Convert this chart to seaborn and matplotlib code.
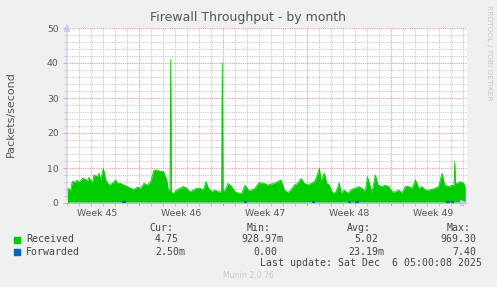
import numpy as np
import pandas as pd
import matplotlib
matplotlib.use("Agg")
import matplotlib.pyplot as plt
import seaborn as sns

# ---- data (x in days since start of the month window) ----
recv_day = [0.03, 0.31, 0.44, 0.72, 0.86, 1.00, 1.28, 1.56, 1.69, 1.83, 2.11, 2.25, 2.53, 2.67,
            2.81, 3.03, 3.22, 3.50, 3.78, 4.06, 4.19, 4.47, 4.75, 5.03, 5.31, 5.58, 5.86, 6.14,
            6.42, 6.69, 6.97, 7.25, 7.53, 7.81, 8.03, 8.31, 8.44, 8.58, 8.64, 8.70, 8.86, 9.14,
            9.42, 9.69, 9.97, 10.25, 10.53, 10.81, 11.08, 11.36, 11.58, 11.78, 12.06, 12.33,
            12.61, 12.88, 12.94, 13.00, 13.17, 13.44, 13.72, 14.00, 14.28, 14.56, 14.83, 15.11,
            15.39, 15.67, 15.94, 16.03, 16.44, 16.72, 17.00, 17.28, 17.56, 17.83, 18.11, 18.39,
            18.67, 18.94, 19.22, 19.50, 19.78, 20.06, 20.33, 20.61, 20.81, 21.03, 21.17, 21.44,
            21.64, 21.86, 22.14, 22.42, 22.69, 22.83, 23.11, 23.39, 23.67, 23.94, 24.03, 24.31,
            24.58, 24.86, 25.03, 25.19, 25.42, 25.69, 25.92, 26.25, 26.53, 26.81, 27.08, 27.36,
            27.64, 27.92, 28.19, 28.47, 28.75, 29.03, 29.31, 29.58, 29.86, 30.14, 30.42, 30.69,
            30.97, 31.25, 31.47, 31.81, 32.08, 32.25, 32.31, 32.37, 32.50, 32.78, 33.06, 33.19]
recv_val = [4.2, 3.7, 6.1, 6.0, 6.5, 5.8, 7.0, 6.8, 6.0, 7.3, 5.6, 8.0, 7.5, 8.5,
            6.6, 9.9, 6.6, 5.1, 5.6, 6.6, 5.6, 5.6, 5.1, 4.7, 4.2, 3.9, 4.5, 4.2,
            5.6, 5.1, 6.1, 9.4, 9.4, 9.0, 9.0, 6.6, 3.7, 3.5, 41.0, 3.0, 2.8, 3.7,
            4.2, 4.7, 4.2, 3.2, 3.7, 4.2, 4.2, 3.7, 6.1, 4.2, 3.2, 3.7,
            3.2, 3.2, 40.0, 3.3, 3.7, 5.6, 4.7, 3.2, 2.8, 2.8, 5.1, 3.7,
            3.7, 4.2, 5.6, 5.8, 5.6, 5.1, 5.4, 5.6, 6.1, 6.6, 3.7, 3.0,
            3.7, 5.1, 5.6, 7.0, 5.6, 5.1, 5.6, 6.1, 7.5, 9.9, 6.1, 8.5,
            5.6, 5.1, 2.8, 3.2, 5.8, 2.8, 3.7, 2.8, 3.7, 4.2, 4.2, 4.7,
            4.2, 3.2, 7.5, 5.6, 3.0, 8.0, 5.1, 4.7, 5.1, 4.7, 3.2, 3.2,
            3.7, 2.8, 4.7, 4.7, 4.2, 6.6, 4.2, 4.7, 3.7, 3.7, 3.9, 4.2,
            4.7, 8.5, 5.1, 4.7, 5.1, 5.0, 11.8, 5.5, 5.6, 6.1, 5.6, 4.2]

fwd_day = [4.70, 4.80, 14.80, 14.90, 20.50, 20.62, 20.75, 21.05, 23.50, 23.60, 24.10, 24.25,
           31.65, 31.80, 32.05, 32.20]
fwd_val = [0.3, 0.3, 0.3, 0.3, 0.3, 0.3, np.nan, np.nan, 0.3, 0.3, 0.3, 0.3,
           0.3, 0.3, 0.3, 0.3]
fwd_grp = [0, 0, 1, 1, 2, 2, 3, 3, 4, 4, 5, 5, 6, 6, 7, 7]

week_labels = ["Week 45", "Week 46", "Week 47", "Week 48", "Week 49"]
week_centers = [2.5, 9.5, 16.5, 23.5, 30.5]
week_bounds = [6, 13, 20, 27]
y_ticks = [0, 10, 20, 30, 40, 50]

legend_names = ["Received", "Forwarded"]
cur_vals = ["4.75", "2.50m"]
min_vals = ["928.97m", "0.00"]
avg_vals = ["5.02", "23.19m"]
max_vals = ["969.30", "7.40"]
colors = ["#00CC00", "#0066B3"]

# ---- figure ----
W, H = 497, 287
sns.set_theme(style="white")
plt.rcParams["font.family"] = ["DejaVu Sans"]
fig = plt.figure(figsize=(W / 100, H / 100), dpi=100, facecolor="#F0F0F0")

def px(x, y):
    return x / W, 1 - y / H

L, R, T, B = 67, 467, 28, 203
ax = fig.add_axes([L / W, (H - B) / H, (R - L) / W, (B - T) / H])
ax.set_facecolor("white")
XMAX = (R - L) / 12.0
ax.set_xlim(0, XMAX)
ax.set_ylim(0, 50)

# grid
minor_col = "#C8C8C8"
major_col = "#E39A9A"
dot = (0, (1, 1))
for d in range(1, int(XMAX) + 1):
    if d in week_bounds:
        continue
    ax.axvline(d, color=minor_col, lw=0.8, ls=dot, zorder=0)
for v in range(2, 51, 2):
    if v % 10 == 0:
        continue
    ax.axhline(v, color=minor_col, lw=0.8, ls=dot, zorder=0)
for d in week_bounds:
    ax.axvline(d, color=major_col, lw=0.8, ls=dot, zorder=0)
for v in y_ticks[1:]:
    ax.axhline(v, color=major_col, lw=0.8, ls=dot, zorder=0)

# data
df = pd.DataFrame({"day": recv_day, "value": recv_val})
ax.fill_between(df["day"], 0, df["value"], color=colors[0], lw=0, zorder=2)
sns.lineplot(data=df, x="day", y="value", color=colors[0], lw=0.6, ax=ax,
             estimator=None, sort=False, zorder=3)
dff = pd.DataFrame({"day": fwd_day, "value": fwd_val, "g": fwd_grp})
for g, sub in dff.groupby("g"):
    sns.lineplot(data=sub, x="day", y="value", color=colors[1], lw=1.6, ax=ax,
                 estimator=None, sort=False, zorder=4)

for s in ax.spines.values():
    s.set_visible(False)

# axes lines with arrows
axis_col = "#C8C8F0"
ax.annotate("", xy=(0, 1.04), xytext=(0, 0), xycoords="axes fraction",
            arrowprops=dict(arrowstyle="-|>,head_width=0.15,head_length=0.35",
                            color=axis_col, lw=0.9), annotation_clip=False)
ax.annotate("", xy=(1.01, 0), xytext=(0, 0), xycoords="axes fraction",
            arrowprops=dict(arrowstyle="-|>,head_width=0.15,head_length=0.35",
                            color=axis_col, lw=0.9), annotation_clip=False)

# ticks
txt_col = "#555555"
ax.set_yticks(y_ticks)
ax.set_yticklabels([str(v) for v in y_ticks])
ax.set_yticks(list(range(0, 51, 2)), minor=True)
ax.set_xticks(week_centers)
ax.set_xticklabels(week_labels)
ax.set_xticks([d for d in range(0, int(XMAX) + 1) if d not in week_bounds], minor=True)
ax.tick_params(axis="y", which="major", length=3, width=0.6, color="#AAAAAA",
               labelsize=6.7, labelcolor=txt_col, pad=3, left=True)
ax.tick_params(axis="y", which="minor", length=2, width=0.6, color="#BBBBBB", left=True)
ax.tick_params(axis="x", which="major", length=0, labelsize=6.7, labelcolor=txt_col, pad=4,
               bottom=True)
ax.tick_params(axis="x", which="minor", length=2, width=0.6, color="#BBBBBB", bottom=True)
trans = ax.get_xaxis_transform()
for d in week_bounds:
    ax.plot([d, d], [0, -0.012], color="#E08080", lw=0.7, transform=trans, clip_on=False)
ax.set_xlabel("")
ax.set_ylabel("")

# titles
fig.text(*px(248, 18), "Firewall Throughput - by month", ha="center", va="center",
         fontsize=9, color=txt_col)
fig.text(*px(10.5, 114), "Packets/second", ha="center", va="center", rotation=90,
         fontsize=8, color=txt_col)
fig.text(*px(488.5, 53), "RRDTOOL / TOBI OETIKER", ha="center", va="center", rotation=270,
         fontsize=5.4, color="#C8C8C8")

# legend
mono = "DejaVu Sans Mono"
lsz = 7.1
lcol = "#444444"
fig.text(*px(173, 228), "Cur:", ha="right", va="center", family=mono, fontsize=lsz, color=lcol)
fig.text(*px(270.7, 228), "Min:", ha="right", va="center", family=mono, fontsize=lsz, color=lcol)
fig.text(*px(370.7, 228), "Avg:", ha="right", va="center", family=mono, fontsize=lsz, color=lcol)
fig.text(*px(470.7, 228), "Max:", ha="right", va="center", family=mono, fontsize=lsz, color=lcol)
rows_y = [239.5, 251.7]
for i in range(2):
    y = rows_y[i]
    fig.patches.append(plt.Rectangle(px(14, y + 3), 6 / W, 6 / H, transform=fig.transFigure,
                                     color=colors[i], figure=fig))
    fig.text(*px(26.3, y), legend_names[i], ha="left", va="center", family=mono,
             fontsize=lsz, color=lcol)
    for vals, right in ((cur_vals, 185), (min_vals, 283.5), (avg_vals, 384), (max_vals, 482.7)):
        v = vals[i]
        r = right if v.endswith("m") else right - 6
        fig.text(*px(r, y), v, ha="right", va="center", family=mono, fontsize=lsz, color=lcol)
fig.text(*px(482.3, 263.5), "Last update: Sat Dec  6 05:00:08 2025", ha="right", va="center",
         family=mono, fontsize=lsz, color=lcol)
fig.text(*px(248.5, 276), "Munin 2.0.76", ha="center", va="center", fontsize=5.6,
         color="#C8C8C8")

fig.savefig("out.png", dpi=100, facecolor=fig.get_facecolor())
